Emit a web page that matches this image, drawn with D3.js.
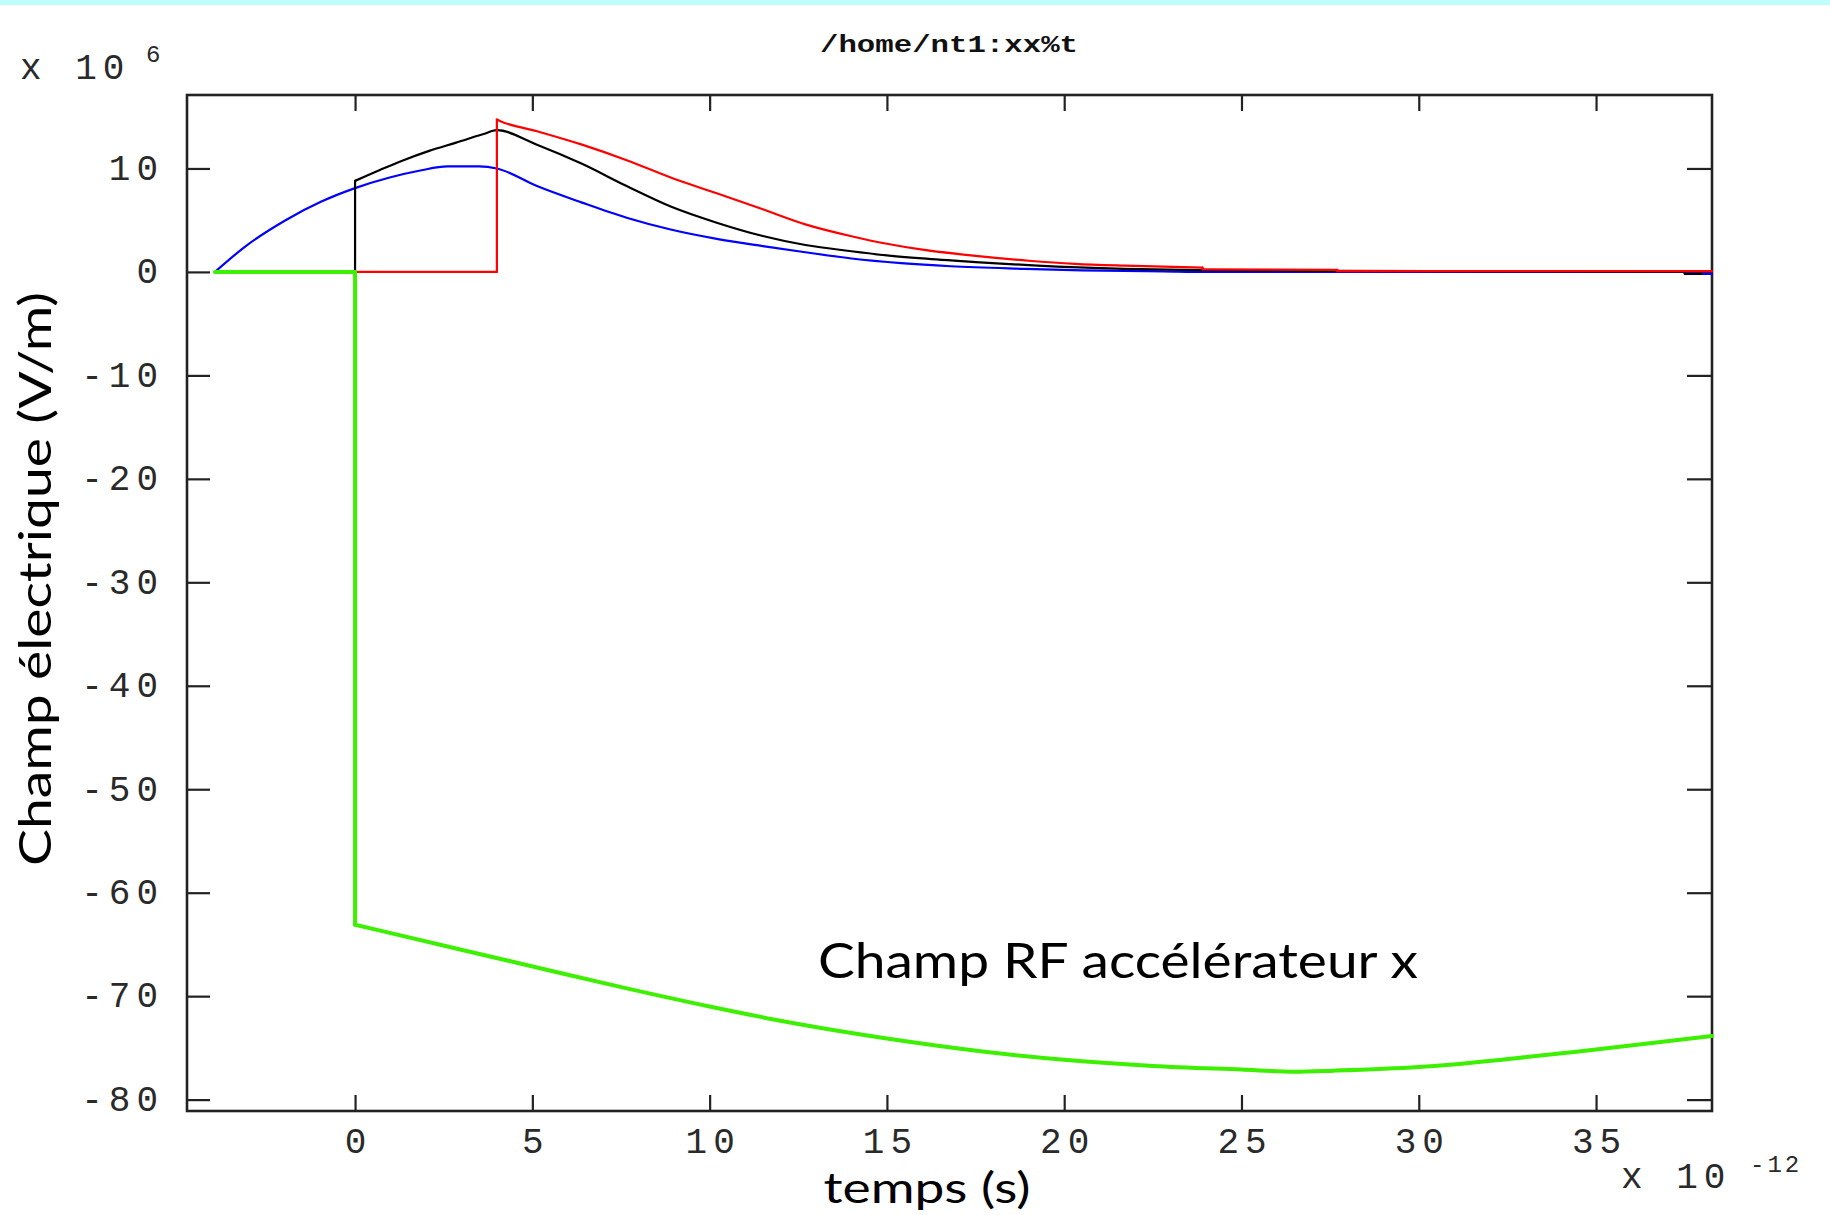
<!DOCTYPE html>
<html>
<head>
<meta charset="utf-8">
<script src="https://cdn.jsdelivr.net/npm/d3@7"></script>
<style>
  html, body { margin: 0; padding: 0; background: #ffffff; }
  svg { display: block; }
</style>
</head>
<body>
<script>
// ---------- data (time in 1e-12 s, field in 1e6 V/m) ----------
const blueT  = [-3.95, -3.1, -1.96, -0.95, 0, 0.95, 1.84, 2.6, 3.5, 4.0, 5.13, 6.4, 7.66, 8.9, 10.2, 11.5, 12.7, 14.0, 15.4, 16.8, 18.9, 20.5, 22.8, 24.0, 30.0, 37.5, 37.96, 38.27];
const blueV  = [0, 2.45, 5.0, 6.8, 8.1, 9.1, 9.8, 10.2, 10.2, 10.0, 8.3, 6.7, 5.24, 4.1, 3.2, 2.5, 1.9, 1.3, 0.85, 0.55, 0.3, 0.15, 0.05, 0.0, 0.0, 0.0, -0.18, -0.18];

const blackT = [0, 0, 0.7, 1.33, 2.09, 2.85, 3.6, 4.0, 5.13, 6.4, 7.66, 8.92, 10.2, 11.5, 12.7, 14.0, 15.0, 16.0, 17.5, 19.25, 21.7, 23.8, 27.7, 37.5, 37.5, 37.96];
const blackV = [0, 8.8, 9.85, 10.75, 11.7, 12.5, 13.3, 13.7, 12.3, 10.45, 8.3, 6.3, 4.76, 3.47, 2.6, 2.0, 1.6, 1.3, 0.95, 0.6, 0.3, 0.18, 0.1, 0.03, -0.18, -0.18];

const redT   = [0, 4.0, 4.0, 4.1, 5.13, 6.4, 7.66, 8.92, 10.2, 11.5, 12.7, 14.0, 15.0, 16.0, 17.5, 19.0, 20.3, 21.7, 23.9, 23.9, 27.7, 27.7, 38.27];
const redV   = [0, 0, 14.73, 14.57, 13.6, 12.3, 10.8, 9.1, 7.6, 6.05, 4.6, 3.45, 2.72, 2.15, 1.55, 1.08, 0.78, 0.6, 0.42, 0.25, 0.2, 0.07, 0.07];

const greenT = [-3.95, 0, 0, 2.61, 5.1, 7.6, 10, 12.5, 15, 17.7, 20, 22.5, 25, 26.5, 27.6, 30, 32.6, 35, 38.27];
const greenV = [0, 0, -63.1, -65.2, -67.2, -69.2, -71.0, -72.7, -74.1, -75.35, -76.15, -76.75, -77.1, -77.3, -77.2, -76.85, -76.05, -75.15, -73.85];

const xTicks = [0, 5, 10, 15, 20, 25, 30, 35];
const yTicks = [-80, -70, -60, -50, -40, -30, -20, -10, 0, 10];

const titleText = "/home/nt1:xx%t";
const yLabel = "Champ électrique (V/m)";
const xLabel = "temps (s)";
const annotation = "Champ RF accélérateur x";
const yMult = ["x 10", "6"];
const xMult = ["x 10", "-12"];

// ---------- layout ----------
const W = 1830, H = 1215;
const svg = d3.select("body").append("svg").attr("width", W).attr("height", H);

svg.append("rect").attr("x", 0).attr("y", 0).attr("width", W).attr("height", 5).attr("fill", "#c0fdfd");

const x = d3.scaleLinear().domain([-4.74, 38.27]).range([187, 1712]);
const y = d3.scaleLinear().domain([-81.1, 17.1]).range([1111, 95]);

const mono = "'Liberation Mono', 'DejaVu Sans Mono', monospace";
const sans = "Lato, 'Open Sans', sans-serif";
const ink = "#2a2a2a";

// ticks
const axB = svg.append("g").attr("transform", `translate(0,${y.range()[0]})`)
  .call(d3.axisBottom(x).tickValues(xTicks).tickSize(-16).tickFormat(d => String(d)));
const axT = svg.append("g").attr("transform", `translate(0,${y.range()[1]})`)
  .call(d3.axisTop(x).tickValues(xTicks).tickSize(-16).tickFormat(""));
const axL = svg.append("g").attr("transform", `translate(${x.range()[0]},0)`)
  .call(d3.axisLeft(y).tickValues(yTicks).tickSize(-23).tickFormat(d => String(d)));
const axR = svg.append("g").attr("transform", `translate(${x.range()[1]},0)`)
  .call(d3.axisRight(y).tickValues(yTicks).tickSize(-25).tickFormat(""));

[axB, axT, axL, axR].forEach(g => {
  g.select(".domain").remove();
  g.selectAll(".tick line").attr("stroke", "#222").attr("stroke-width", 2.2);
});

axB.selectAll(".tick text")
  .attr("y", 42).attr("dy", 0)
  .attr("font-family", mono).attr("font-size", 36).attr("fill", ink)
  .attr("letter-spacing", 6).attr("dx", 3);
axL.selectAll(".tick text")
  .attr("x", -23).attr("dy", "0.3em")
  .attr("font-family", mono).attr("font-size", 36).attr("fill", ink)
  .attr("letter-spacing", 6);

// frame
svg.append("rect")
  .attr("x", x.range()[0]).attr("y", y.range()[1])
  .attr("width", x.range()[1] - x.range()[0])
  .attr("height", y.range()[0] - y.range()[1])
  .attr("fill", "none").attr("stroke", "#222").attr("stroke-width", 2.6);

// lines: smooth runs where time increases, straight vertical jumps
const smooth = d3.line().x(d => x(d[0])).y(d => y(d[1])).curve(d3.curveMonotoneX);
const straight = d3.line().x(d => x(d[0])).y(d => y(d[1]));
function series(T, V, color, w) {
  const pts = T.map((t, i) => [t, V[i]]);
  const g = svg.append("g").attr("fill", "none").attr("stroke", color)
    .attr("stroke-width", w).attr("stroke-linejoin", "round").attr("stroke-linecap", "round");
  let run = [pts[0]];
  for (let i = 1; i < pts.length; i++) {
    if (pts[i][0] === pts[i - 1][0]) {
      if (run.length > 1) g.append("path").datum(run).attr("d", smooth);
      g.append("path").datum([pts[i - 1], pts[i]]).attr("d", straight);
      run = [pts[i]];
    } else {
      run.push(pts[i]);
    }
  }
  if (run.length > 1) g.append("path").datum(run).attr("d", smooth);
}
series(blueT, blueV, "#0000ff", 2.2);
series(blackT, blackV, "#000000", 2.2);
series(redT, redV, "#ff0000", 2.2);
series(greenT, greenV, "#3cf000", 4);

// texts
svg.append("text").attr("x", 820).attr("y", 52)
  .attr("font-family", mono).attr("font-weight", "bold").attr("font-size", 24)
  .attr("textLength", 258).attr("lengthAdjust", "spacingAndGlyphs")
  .attr("fill", "#111").text(titleText);

svg.append("text").attr("x", 20).attr("y", 79)
  .attr("font-family", mono).attr("font-size", 36).attr("letter-spacing", 6).attr("fill", ink)
  .text(yMult[0]);
svg.append("text").attr("x", 146).attr("y", 62)
  .attr("font-family", mono).attr("font-size", 24).attr("fill", ink)
  .text(yMult[1]);

svg.append("text").attr("x", 1621).attr("y", 1188)
  .attr("font-family", mono).attr("font-size", 36).attr("letter-spacing", 6).attr("fill", ink)
  .text(xMult[0]);
svg.append("text").attr("x", 1750).attr("y", 1172)
  .attr("font-family", mono).attr("font-size", 24).attr("letter-spacing", 3).attr("fill", ink)
  .text(xMult[1]);

svg.append("text")
  .attr("transform", "translate(51,579) rotate(-90)")
  .attr("text-anchor", "middle")
  .attr("font-family", sans).attr("font-size", 44)
  .attr("textLength", 574).attr("lengthAdjust", "spacingAndGlyphs")
  .attr("fill", "#000").text(yLabel);

svg.append("text").attr("x", 927).attr("y", 1203)
  .attr("text-anchor", "middle")
  .attr("font-family", sans).attr("font-size", 42)
  .attr("textLength", 207).attr("lengthAdjust", "spacingAndGlyphs")
  .attr("fill", "#000").text(xLabel);

svg.append("text").attr("x", 818).attr("y", 978)
  .attr("font-family", sans).attr("font-size", 48)
  .attr("textLength", 600).attr("lengthAdjust", "spacingAndGlyphs")
  .attr("fill", "#000").text(annotation);
</script>
</body>
</html>
